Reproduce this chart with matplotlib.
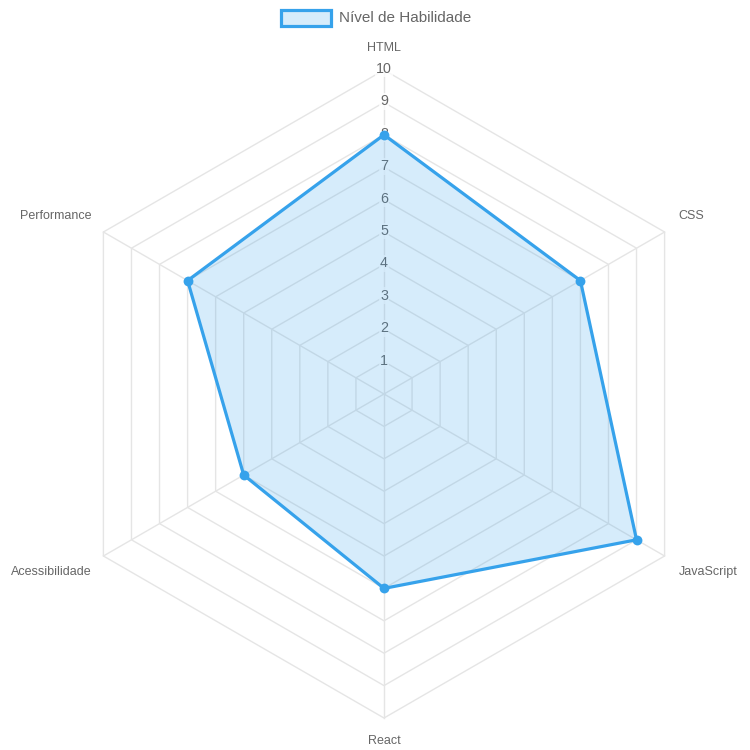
import numpy as np
import matplotlib.pyplot as plt
from matplotlib.patches import Rectangle

# data
skills = ["HTML", "CSS", "JavaScript", "React", "Acessibilidade", "Performance"]
levels = [8, 7, 9, 6, 5, 7]
ticks = [1, 2, 3, 4, 5, 6, 7, 8, 9, 10]
series_name = "Nível de Habilidade"

plt.rcParams['font.family'] = ['Liberation Sans', 'DejaVu Sans']

line_col = "#36A2EB"
fill_col = (54/255, 162/255, 235/255, 0.2)
grid_col = "#e5e5e5"
text_col = "#666666"

fig = plt.figure(figsize=(7.5, 7.5), dpi=100)
ax = fig.add_axes([0, 0, 1, 1])
ax.set_xlim(0, 750)
ax.set_ylim(750, 0)
ax.axis("off")

cx, cy = 384, 394
rmax = 324.0
vmax = 10.0
n = len(skills)
ang = np.pi / 2 - np.arange(n) * 2 * np.pi / n  # start at top, clockwise


def to_xy(r, a):
    return cx + r * np.cos(a), cy - r * np.sin(a)


# hexagonal grid
for t in ticks:
    r = rmax * t / vmax
    xs, ys = to_xy(r, np.append(ang, ang[0]))
    ax.plot(xs, ys, color=grid_col, lw=1, zorder=1)

# spokes
for a in ang:
    x1, y1 = to_xy(rmax, a)
    ax.plot([cx, x1], [cy, y1], color=grid_col, lw=1, zorder=1)

# tick labels (under the dataset, white backdrop)
for t in ticks:
    r = rmax * t / vmax
    ax.text(cx, cy - r - 1, str(t), ha="center", va="center", fontsize=10.3, color=text_col,
            zorder=1.5, bbox=dict(boxstyle="square,pad=0.1", fc=(1, 1, 1, 0.75), ec="none"))

# data polygon
vals = np.array(levels, dtype=float)
xs, ys = to_xy(rmax * vals / vmax, ang)
ax.fill(xs, ys, color=fill_col, lw=0, zorder=2)
ax.plot(np.append(xs, xs[0]), np.append(ys, ys[0]), color=line_col, lw=2.3, zorder=3)
ax.scatter(xs, ys, s=50, color=line_col, zorder=4, linewidths=0)

# point labels
for name, a in zip(skills, ang):
    c = np.cos(a)
    vx, vy = to_xy(rmax, a)
    if abs(c) < 0.01:
        ha = "center"
        x = cx
        y = cy - rmax - 22 if np.sin(a) > 0 else cy + rmax + 23
    elif c > 0:
        ha = "left"
        x = vx + 14
        y = vy + (-16 if np.sin(a) > 0 else 16)
    else:
        ha = "right"
        x = vx - 12
        y = vy + (-16 if np.sin(a) > 0 else 16)
    ax.text(x, y, name, ha=ha, va="center", fontsize=9, color=text_col)

# legend
ax.add_patch(Rectangle((281, 10), 50, 16, fc=fill_col, ec=line_col, lw=2.3))
ax.text(339, 18, series_name, ha="left", va="center", fontsize=11, color=text_col)

fig.savefig("out.png", dpi=100)
